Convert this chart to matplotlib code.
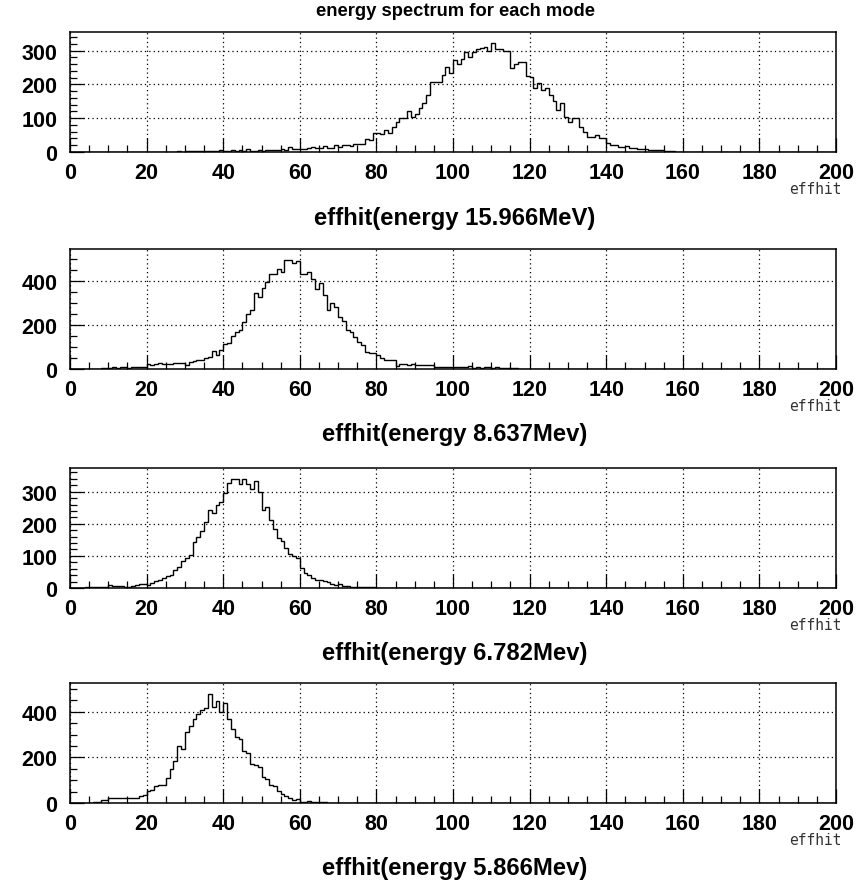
import numpy as np
import matplotlib
matplotlib.use("Agg")
import matplotlib.pyplot as plt
from matplotlib.ticker import MultipleLocator

# ---------------- data (bin counts, 1-wide bins over 0..200) ----------------
x_min, x_max, n_bins = 0, 200, 200

# 15.966 MeV, first non-empty bin = 25
start_15966 = 25
counts_15966 = [1, 0, 1, 2, 1, 2, 2, 3, 2, 3, 3, 2, 3, 4, 7, 4, 3, 5, 4, 5,
                3, 8, 4, 4, 5, 4, 6, 5, 7, 6, 8, 7, 15, 10, 10, 10, 10, 11, 15, 12,
                12, 17, 13, 13, 20, 15, 22, 22, 18, 25, 25, 23, 38, 37, 55, 56, 54, 65, 57, 75,
                89, 102, 102, 120, 105, 112, 130, 145, 168, 208, 208, 208, 228, 252, 235, 272, 260, 275, 297, 282,
                297, 305, 308, 310, 300, 323, 305, 305, 300, 300, 250, 260, 265, 265, 225, 222, 190, 205, 185, 190,
                170, 150, 125, 145, 105, 90, 100, 100, 75, 60, 45, 45, 50, 40, 40, 28, 20, 20, 15, 15,
                18, 12, 12, 8, 8, 8, 5, 5, 5, 5, 2, 2, 2]

# 8.637 MeV, first non-empty bin = 7
start_8637 = 7
counts_8637 = [2, 3, 3, 4, 7, 6, 7, 8, 6, 7, 10, 9, 10, 21, 19, 24, 25, 23, 22, 24,
               29, 25, 26, 20, 33, 36, 41, 40, 52, 56, 83, 64, 86, 114, 117, 152, 170, 177, 215, 248,
               268, 344, 326, 367, 397, 432, 432, 453, 442, 495, 495, 483, 492, 432, 432, 442, 408, 362, 392, 336,
               268, 298, 283, 238, 218, 177, 170, 147, 124, 109, 79, 71, 71, 64, 52, 41, 41, 41, 14, 21,
               21, 19, 22, 18, 20, 17, 16, 18, 8, 10, 9, 11, 10, 9, 10, 11, 10, 12, 6, 7,
               6, 7, 7, 6, 7, 6, 6, 6, 5, 4]

# 6.782 MeV, first non-empty bin = 4
start_6782 = 4
counts_6782 = [2, 3, 2, 3, 3, 4, 10, 6, 6, 5, 3, 4, 7, 10, 14, 11, 10, 16, 21, 26,
               30, 37, 42, 55, 65, 84, 95, 102, 144, 158, 179, 205, 242, 234, 258, 268, 295, 328, 340, 340,
               324, 340, 324, 307, 332, 300, 242, 253, 211, 184, 156, 145, 124, 107, 100, 95, 63, 47, 42, 32,
               26, 26, 21, 18, 14, 10, 12, 6, 5, 2, 3, 3, 2, 2, 3, 2]

# 5.866 MeV, first non-empty bin = 5
start_5866 = 5
counts_5866 = [2, 3, 3, 12, 14, 20, 22, 21, 22, 20, 22, 21, 23, 29, 37, 51, 55, 76, 78, 81,
               110, 147, 184, 250, 235, 309, 338, 368, 390, 409, 415, 478, 419, 448, 397, 438, 370, 323, 287, 282,
               228, 218, 169, 165, 159, 115, 103, 81, 76, 51, 41, 32, 22, 12, 18, 6, 6, 7, 5, 4,
               3, 3, 1]

titles = ["effhit(energy 15.966MeV)", "effhit(energy 8.637Mev)",
          "effhit(energy 6.782Mev)", "effhit(energy 5.866Mev)"]
main_title = "energy spectrum for each mode"
x_label = "effhit"
x_major = 20
x_minor = 5
y_major = [100, 200, 100, 200]
y_minor = [20, 50, 20, 50]

series = [(start_15966, counts_15966), (start_8637, counts_8637),
          (start_6782, counts_6782), (start_5866, counts_5866)]

# ---------------- figure ----------------
W, H = 865, 887
fig = plt.figure(figsize=(W / 100, H / 100), dpi=100)
FONT = "Liberation Sans"

ax_left, ax_right = 70, 836
ax_tops = [33, 250, 469, 684]
ax_h = 120

edges = np.linspace(x_min, x_max, n_bins + 1)

for i, (start, cnt) in enumerate(series):
    top = ax_tops[i]
    ax = fig.add_axes([ax_left / W, 1 - (top + ax_h) / H,
                       (ax_right - ax_left) / W, ax_h / H])
    full = np.zeros(n_bins)
    full[start:start + len(cnt)] = cnt
    ax.stairs(full, edges, color="black", lw=1.0, baseline=None)
    ax.set_xlim(x_min, x_max)
    ax.set_ylim(0, max(cnt) * 1.1)
    ax.xaxis.set_major_locator(MultipleLocator(x_major))
    ax.xaxis.set_minor_locator(MultipleLocator(x_minor))
    ax.yaxis.set_major_locator(MultipleLocator(y_major[i]))
    ax.yaxis.set_minor_locator(MultipleLocator(y_minor[i]))
    ax.grid(True, which="major", color="black", linestyle=(0, (1, 2.5)), lw=0.9)
    ax.tick_params(which="both", direction="in", top=False, right=False,
                   width=0.9, colors="black")
    ax.tick_params(which="major", length=10)
    ax.tick_params(which="minor", length=5)
    ax.tick_params(axis="x", which="major", pad=7)
    ax.tick_params(axis="y", which="major", pad=9)
    for lab in ax.get_xticklabels() + ax.get_yticklabels():
        lab.set_fontfamily(FONT)
        lab.set_fontweight("bold")
        lab.set_fontsize(15.5)
    for sp in ax.spines.values():
        sp.set_linewidth(1.1)
    # titles below the axes
    fig.text(455 / W, 1 - (top + 185) / H, titles[i], ha="center", va="center",
             fontfamily=FONT, fontweight="bold", fontsize=17.2)
    fig.text(842 / W, 1 - (top + 157) / H, x_label, ha="right", va="center",
             fontfamily="DejaVu Sans Mono", fontsize=10.5, color="#333333")

fig.text(455 / W, 1 - 12 / H, main_title, ha="center", va="center",
         fontfamily=FONT, fontweight="bold", fontsize=13.2)

fig.savefig("out.png", dpi=100)
